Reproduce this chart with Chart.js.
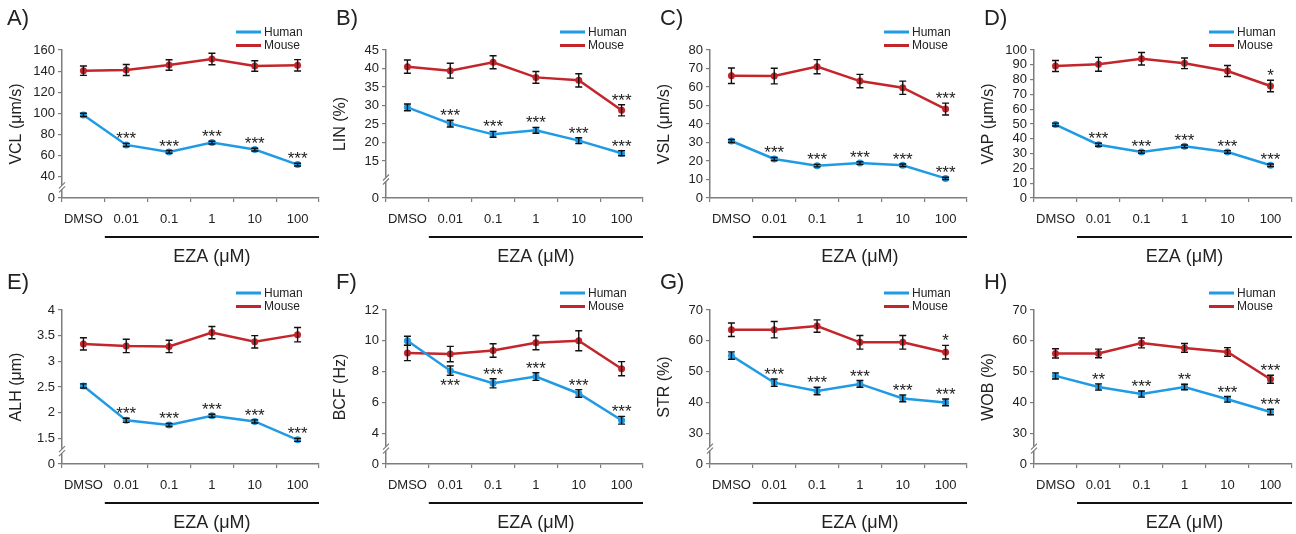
<!DOCTYPE html>
<html>
<head>
<meta charset="utf-8">
<script src="https://cdn.jsdelivr.net/npm/chart.js@4.4.0/dist/chart.umd.min.js"></script>
<style>
  body { margin: 0; background: #fff; }
  #wrap { position: relative; width: 1296px; height: 534px; }
  .panel { position: absolute; width: 324px; height: 267px; }
</style>
</head>
<body>
<div id="wrap"></div>
<script>
const doses = ['DMSO', '0.01', '0.1', '1', '10', '100'];

// A) VCL
const vclHuman = [98.6, 70.2, 63.6, 72.4, 65.8, 51.6];
const vclHumanErr = [1.5, 1.5, 1.3, 1.3, 1.3, 1.3];
const vclMouse = [140.4, 141.1, 145.8, 151.5, 144.9, 145.5];
const vclMouseErr = [4.4, 5.2, 5, 5.4, 5, 5.4];
const vclHumanStars = ['', '***', '***', '***', '***', '***'];
const vclMouseStars = ['', '', '', '', '', ''];

// B) LIN
const linHuman = [29.5, 25.1, 22.2, 23.3, 20.5, 17.1];
const linHumanErr = [0.9, 0.9, 0.8, 0.8, 0.8, 0.7];
const linMouse = [40.5, 39.4, 41.7, 37.6, 36.8, 28.7];
const linMouseErr = [1.8, 2.0, 1.75, 1.6, 1.8, 1.5];
const linHumanStars = ['', '***', '***', '***', '***', '***'];
const linMouseStars = ['', '', '', '', '', '***'];

// C) VSL
const vslHuman = [30.8, 21.1, 17.5, 18.9, 17.7, 10.6];
const vslHumanErr = [0.8, 0.8, 0.7, 0.7, 0.7, 0.6];
const vslMouse = [66.1, 65.9, 71, 63.2, 59.6, 48.1];
const vslMouseErr = [4.2, 4.2, 3.8, 3.6, 3.6, 3.2];
const vslHumanStars = ['', '***', '***', '***', '***', '***'];
const vslMouseStars = ['', '', '', '', '', '***'];

// D) VAP
const vapHuman = [49.6, 36, 31.1, 34.9, 31.1, 22.1];
const vapHumanErr = [1.0, 1.0, 0.9, 0.9, 0.9, 0.9];
const vapMouse = [89.2, 90.3, 94.1, 91, 85.8, 75.7];
const vapMouseErr = [3.7, 4.7, 4.2, 3.6, 3.7, 3.9];
const vapHumanStars = ['', '***', '***', '***', '***', '***'];
const vapMouseStars = ['', '', '', '', '', '*'];

// E) ALH
const alhHuman = [2.52, 1.85, 1.76, 1.94, 1.83, 1.47];
const alhHumanErr = [0.04, 0.04, 0.03, 0.03, 0.03, 0.03];
const alhMouse = [3.34, 3.30, 3.29, 3.56, 3.38, 3.52];
const alhMouseErr = [0.12, 0.13, 0.12, 0.12, 0.12, 0.14];
const alhHumanStars = ['', '***', '***', '***', '***', '***'];
const alhMouseStars = ['', '', '', '', '', ''];

// F) BCF
const bcfHuman = [10.0, 8.06, 7.24, 7.68, 6.58, 4.84];
const bcfHumanErr = [0.3, 0.3, 0.3, 0.25, 0.25, 0.25];
const bcfMouse = [9.21, 9.14, 9.37, 9.88, 10.0, 8.19];
const bcfMouseErr = [0.5, 0.5, 0.44, 0.46, 0.65, 0.46];
const bcfHumanStars = ['', '***', '***', '***', '***', '***'];
const bcfHumanStarBelow = [false, true, false, false, false, false];
const bcfMouseStars = ['', '', '', '', '', ''];

// G) STR
const strHuman = [55.2, 46.4, 43.7, 46.0, 41.3, 40.0];
const strHumanErr = [1.2, 1.2, 1.2, 1.1, 1.1, 1.1];
const strMouse = [63.6, 63.6, 64.8, 59.5, 59.5, 56.3];
const strMouseErr = [2.2, 2.65, 2, 2.2, 2.2, 2.2];
const strHumanStars = ['', '***', '***', '***', '***', '***'];
const strMouseStars = ['', '', '', '', '', '*'];

// H) WOB
const wobHuman = [48.6, 45.0, 42.7, 45.0, 41.0, 36.9];
const wobHumanErr = [1.0, 1.0, 1.0, 0.9, 0.9, 0.9];
const wobMouse = [55.9, 55.9, 59.3, 57.7, 56.4, 47.5];
const wobMouseErr = [1.5, 1.4, 1.6, 1.4, 1.4, 1.3];
const wobHumanStars = ['', '**', '***', '**', '***', '***'];
const wobMouseStars = ['', '', '', '', '', '***'];

const FONT = "'Liberation Sans', Arial, sans-serif";
const BLUE = '#1f9be6';
const RED = '#c4252b';
const AXIS = '#7d7d7d';
const TEXT = '#222';

// panel list: letter, y title, axis range, break, data
const panels = [
  { letter: 'A)', title: 'VCL (μm/s)', min: 20, max: 160, step: 20, brk: true,
    h: vclHuman, he: vclHumanErr, hs: vclHumanStars, m: vclMouse, me: vclMouseErr, ms: vclMouseStars },
  { letter: 'B)', title: 'LIN (%)', min: 5, max: 45, step: 5, brk: true, hide: [10],
    h: linHuman, he: linHumanErr, hs: linHumanStars, m: linMouse, me: linMouseErr, ms: linMouseStars },
  { letter: 'C)', title: 'VSL (μm/s)', min: 0, max: 80, step: 10, brk: false,
    h: vslHuman, he: vslHumanErr, hs: vslHumanStars, m: vslMouse, me: vslMouseErr, ms: vslMouseStars },
  { letter: 'D)', title: 'VAP (μm/s)', min: 0, max: 100, step: 10, brk: false,
    h: vapHuman, he: vapHumanErr, hs: vapHumanStars, m: vapMouse, me: vapMouseErr, ms: vapMouseStars },
  { letter: 'E)', title: 'ALH (μm)', min: 1, max: 4, step: 0.5, brk: true,
    h: alhHuman, he: alhHumanErr, hs: alhHumanStars, m: alhMouse, me: alhMouseErr, ms: alhMouseStars },
  { letter: 'F)', title: 'BCF (Hz)', min: 2, max: 12, step: 2, brk: true,
    h: bcfHuman, he: bcfHumanErr, hs: bcfHumanStars, hb: bcfHumanStarBelow, m: bcfMouse, me: bcfMouseErr, ms: bcfMouseStars },
  { letter: 'G)', title: 'STR (%)', min: 20, max: 70, step: 10, brk: true,
    h: strHuman, he: strHumanErr, hs: strHumanStars, m: strMouse, me: strMouseErr, ms: strMouseStars },
  { letter: 'H)', title: 'WOB (%)', min: 20, max: 70, step: 10, brk: true,
    h: wobHuman, he: wobHumanErr, hs: wobHumanStars, m: wobMouse, me: wobMouseErr, ms: wobMouseStars }
];

// error bars, stars, legend, axis break, EZA bracket
const decor = {
  id: 'decor',
  afterDatasetsDraw(chart) {
    const ctx = chart.ctx, y = chart.scales.y;
    chart.data.datasets.forEach((ds, i) => {
      const meta = chart.getDatasetMeta(i);
      ctx.save();
      ctx.strokeStyle = '#111';
      ctx.lineWidth = 1.4;
      meta.data.forEach((pt, j) => {
        const t = y.getPixelForValue(ds.data[j] + ds.errors[j]);
        const b = y.getPixelForValue(ds.data[j] - ds.errors[j]);
        ctx.beginPath();
        ctx.moveTo(pt.x, t); ctx.lineTo(pt.x, b);
        ctx.moveTo(pt.x - 3.5, t); ctx.lineTo(pt.x + 3.5, t);
        ctx.moveTo(pt.x - 3.5, b); ctx.lineTo(pt.x + 3.5, b);
        ctx.stroke();
      });
      // significance stars
      ctx.fillStyle = TEXT;
      ctx.font = '17px ' + FONT;
      ctx.textAlign = 'center';
      ctx.textBaseline = 'alphabetic';
      meta.data.forEach((pt, j) => {
        const s = ds.stars[j];
        if (!s) return;
        if (ds.starBelow && ds.starBelow[j]) {
          const b = y.getPixelForValue(ds.data[j] - ds.errors[j]);
          ctx.fillText(s, pt.x, b + 7 + 9);
        } else {
          const t = y.getPixelForValue(ds.data[j] + ds.errors[j]);
          ctx.fillText(s, pt.x, t - 8 + 9);
        }
      });
      ctx.restore();
    });
  },
  afterDraw(chart, args, o) {
    const ctx = chart.ctx, ca = chart.chartArea, x = chart.scales.x, y = chart.scales.y;
    ctx.save();
    // panel letter
    ctx.fillStyle = TEXT;
    ctx.font = '22px ' + FONT;
    ctx.textAlign = 'left';
    ctx.textBaseline = 'alphabetic';
    ctx.fillText(o.letter, o.letterX, o.letterY);
    // legend
    ctx.font = '12px ' + FONT;
    ctx.textBaseline = 'middle';
    chart.data.datasets.forEach((ds, i) => {
      const ly = o.legendY + i * 13.5;
      const lx = ca.right - 83;
      ctx.strokeStyle = ds.borderColor;
      ctx.lineWidth = 3;
      ctx.beginPath(); ctx.moveTo(lx, ly); ctx.lineTo(lx + 25, ly); ctx.stroke();
      ctx.fillStyle = TEXT;
      ctx.fillText(ds.label, lx + 28, ly + 0.5);
    });
    // broken axis
    if (o.brk) {
      const ticks = y.ticks;
      const by = (y.getPixelForValue(ticks[0].value) + y.getPixelForValue(o.firstShown)) / 2;
      const bx = ca.left;
      ctx.fillStyle = '#fff';
      ctx.fillRect(bx - 2, by - 2, 4, 4);
      ctx.strokeStyle = AXIS;
      ctx.lineWidth = 1.2;
      ctx.beginPath();
      ctx.moveTo(bx - 3, by + 1); ctx.lineTo(bx + 3, by - 5);
      ctx.moveTo(bx - 3, by + 5); ctx.lineTo(bx + 3, by - 1);
      ctx.stroke();
    }
    // EZA bracket line and label
    const x0 = (x.getPixelForValue(0) + x.getPixelForValue(1)) / 2;
    const x1 = ca.right;
    const lineY = ca.bottom + 39;
    ctx.strokeStyle = '#111';
    ctx.lineWidth = 1.8;
    ctx.beginPath(); ctx.moveTo(x0, lineY); ctx.lineTo(x1, lineY); ctx.stroke();
    ctx.fillStyle = TEXT;
    ctx.font = '18px ' + FONT;
    ctx.textAlign = 'center';
    ctx.textBaseline = 'alphabetic';
    ctx.fillText('EZA (μM)', (x0 + x1) / 2, lineY + 25);
    ctx.restore();
  }
};

const wrap = document.getElementById('wrap');

panels.forEach((p, k) => {
  const col = k % 4, row = Math.floor(k / 4);
  const div = document.createElement('div');
  div.className = 'panel';
  div.style.left = (col * 324) + 'px';
  div.style.top = (row * 267) + 'px';
  const cv = document.createElement('canvas');
  cv.width = 324; cv.height = 267;
  div.appendChild(cv);
  wrap.appendChild(div);

  const top = row === 0 ? 50 : 43;
  const plotH = row === 0 ? 148 : 154;
  const hide = p.hide || [];
  const firstShown = p.min + p.step * (1 + hide.filter(v => v < p.min + p.step * 2 + 1e-9).length);

  new Chart(cv, {
    type: 'line',
    data: {
      labels: doses,
      datasets: [
        { label: 'Human', data: p.h, errors: p.he, stars: p.hs, starBelow: p.hb,
          borderColor: BLUE, backgroundColor: BLUE, borderWidth: 2.5,
          pointRadius: 3.5, pointBorderWidth: 0, tension: 0 },
        { label: 'Mouse', data: p.m, errors: p.me, stars: p.ms,
          borderColor: RED, backgroundColor: RED, borderWidth: 2.5,
          pointRadius: 3.5, pointBorderWidth: 0, tension: 0 }
      ]
    },
    options: {
      responsive: false,
      animation: false,
      events: [],
      layout: { padding: { top: top, right: col === 3 ? 2 : 5, left: 0, bottom: 267 - top - plotH - 30 } },
      plugins: {
        legend: { display: false },
        tooltip: { enabled: false },
        decor: {
          letter: p.letter,
          letterX: col === 0 ? 7 : 12,
          letterY: row === 0 ? 25 : 22,
          legendY: row === 0 ? 32 : 26,
          brk: p.brk,
          firstShown: firstShown
        }
      },
      scales: {
        x: {
          type: 'category',
          offset: true,
          grid: { offset: true, drawOnChartArea: false, tickLength: 4, color: AXIS, lineWidth: 1.2 },
          border: { color: AXIS, width: 1.5 },
          ticks: { color: TEXT, font: { family: FONT, size: 13 }, padding: 10, maxRotation: 0, autoSkip: false },
          afterFit: s => { s.height = 30; }
        },
        y: {
          min: p.min,
          max: p.max,
          ticks: {
            stepSize: p.step,
            autoSkip: false,
            color: TEXT,
            font: { family: FONT, size: 13 },
            padding: 3,
            callback: v => {
              if (p.brk && Math.abs(v - p.min) < 1e-9) return '0';
              if (hide.some(h => Math.abs(h - v) < 1e-9)) return null;
              return String(v);
            }
          },
          grid: { drawOnChartArea: false, tickLength: 4, color: AXIS, lineWidth: 1.2 },
          border: { color: AXIS, width: 1.5 },
          title: { display: true, text: p.title, color: TEXT, font: { family: FONT, size: 16 }, padding: { top: 7, bottom: 0 } },
          afterFit: s => { s.width = 62; }
        }
      }
    },
    plugins: [decor]
  });
});
</script>
</body>
</html>
